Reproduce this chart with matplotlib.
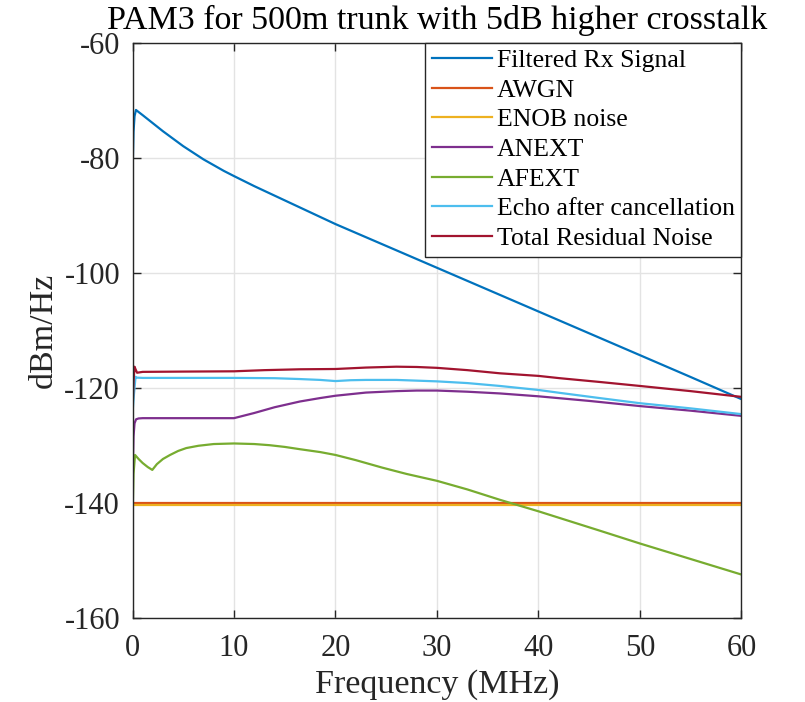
import matplotlib
matplotlib.use("Agg")
import matplotlib.pyplot as plt

plt.rcParams['font.family'] = ['Liberation Serif', 'DejaVu Serif']
plt.rcParams['axes.unicode_minus'] = False

# Filtered Rx Signal
f_rx = [0.02, 0.1, 0.2, 0.34, 1, 2, 3, 4, 5, 6, 7, 8, 9, 10, 12, 14, 16, 18, 20,
        25, 30, 35, 40, 45, 50, 55, 60]
rx = [-81.6, -75.5, -72.8, -71.7, -72.6, -74.0, -75.4, -76.7, -78.0, -79.15, -80.3,
      -81.3, -82.3, -83.2, -84.95, -86.6, -88.25, -89.9, -91.55, -95.35, -99.15,
      -102.95, -106.75, -110.55, -114.35, -118.15, -122.0]

# AWGN and ENOB (flat)
f_flat = [0.02, 60]
awgn = [-140.0, -140.0]
enob = [-140.45, -140.45]

# ANEXT
f_next = [0.02, 0.1, 0.2, 0.35, 0.6, 1, 10, 12, 14, 16.5, 18.5, 20, 23, 26, 28, 30, 33,
          36.2, 40, 45, 50, 55, 60]
anext = [-135.0, -128.5, -126.2, -125.5, -125.35, -125.3, -125.3, -124.4, -123.4, -122.4,
         -121.8, -121.4, -120.85, -120.6, -120.5, -120.5, -120.7, -121.0, -121.5, -122.3,
         -123.2, -124.0, -124.9]

# AFEXT
f_fext = [0.02, 0.1, 0.25, 0.6, 1.0, 1.5, 1.95, 2.4, 3.0, 3.7, 4.5, 5.3, 6.5, 8, 10, 12,
          13.5, 15, 16.5, 18.5, 20, 22, 24.6, 27, 30, 33, 36.2, 40, 46.1, 50, 55, 60]
afext = [-141.5, -135.0, -131.7, -132.4, -133.1, -133.8, -134.3, -133.3, -132.4, -131.7,
         -131.0, -130.5, -130.1, -129.8, -129.7, -129.8, -130.0, -130.3, -130.7, -131.2,
         -131.7, -132.6, -133.9, -135.0, -136.2, -137.7, -139.5, -141.5, -144.9, -147.1,
         -149.8, -152.5]

# Echo after cancellation
f_echo = [0.02, 0.15, 0.3, 0.4, 1, 5, 10, 14, 16.5, 18.5, 20, 21.5, 23, 26, 30, 33, 36.2,
          40, 42.1, 46, 50, 55, 60]
echo = [-124.0, -121.0, -118.1, -118.25, -118.3, -118.3, -118.3, -118.35, -118.5, -118.65,
        -118.85, -118.7, -118.65, -118.65, -118.9, -119.2, -119.7, -120.4, -120.9, -121.8,
        -122.7, -123.6, -124.6]

# Total Residual Noise
f_tot = [0.02, 0.1, 0.2, 0.3, 0.45, 1, 5, 10, 13, 16.5, 20, 23, 26, 28, 30, 33, 36.2, 40,
         42.1, 46, 50, 55, 60]
total = [-123.4, -119.0, -116.35, -116.8, -117.4, -117.25, -117.2, -117.15, -116.95,
         -116.8, -116.75, -116.5, -116.35, -116.4, -116.55, -116.95, -117.5, -117.95,
         -118.35, -119.0, -119.7, -120.6, -121.6]

labels = ['Filtered Rx Signal', 'AWGN', 'ENOB noise', 'ANEXT', 'AFEXT',
          'Echo after cancellation', 'Total Residual Noise']
colors = ['#0072BD', '#D95319', '#EDB120', '#7E2F8E', '#77AC30', '#4DBEEE', '#A2142F']

fig = plt.figure(figsize=(8.05, 7.02), dpi=100)
ax = fig.add_axes([0.1646, 0.1201, 0.7565, 0.8191])

series = [(f_rx, rx), (f_flat, awgn), (f_flat, enob), (f_next, anext),
          (f_fext, afext), (f_echo, echo), (f_tot, total)]
for (f, v), lab, c in zip(series, labels, colors):
    ax.plot(f, v, color=c, linewidth=1.6, label=lab)

ax.set_xlim(0, 60)
ax.set_ylim(-160, -60)
ax.set_xticks([0, 10, 20, 30, 40, 50, 60])
ax.set_yticks([-160, -140, -120, -100, -80, -60])
ax.grid(True, color='#e3e3e3', linewidth=1.0)
ax.set_axisbelow(True)
ax.tick_params(direction='in', top=True, right=True, length=6, width=1,
               labelsize=22, color='#262626', labelcolor='#262626')
ax.tick_params(axis='x', pad=12)
ax.tick_params(axis='y', pad=9)
for s in ax.spines.values():
    s.set_color('#262626')
    s.set_linewidth(1.0)

ax.set_xlabel('Frequency (MHz)', fontsize=24.5, color='#262626', labelpad=4)
ax.set_ylabel('dBm/Hz', fontsize=24.5, color='#262626', labelpad=4)
ax.set_title('PAM3 for 500m trunk with 5dB higher crosstalk', fontsize=24.5, pad=10)

leg = ax.legend(loc='upper right', bbox_to_anchor=(1.0, 1.0), borderaxespad=0,
                fontsize=18.5, handlelength=2.35, handletextpad=0.2, labelspacing=0.26,
                borderpad=0.25, fancybox=False, framealpha=1)
leg.get_frame().set_edgecolor('#262626')
leg.get_frame().set_linewidth(1.0)

fig.savefig('out.png', dpi=100)
